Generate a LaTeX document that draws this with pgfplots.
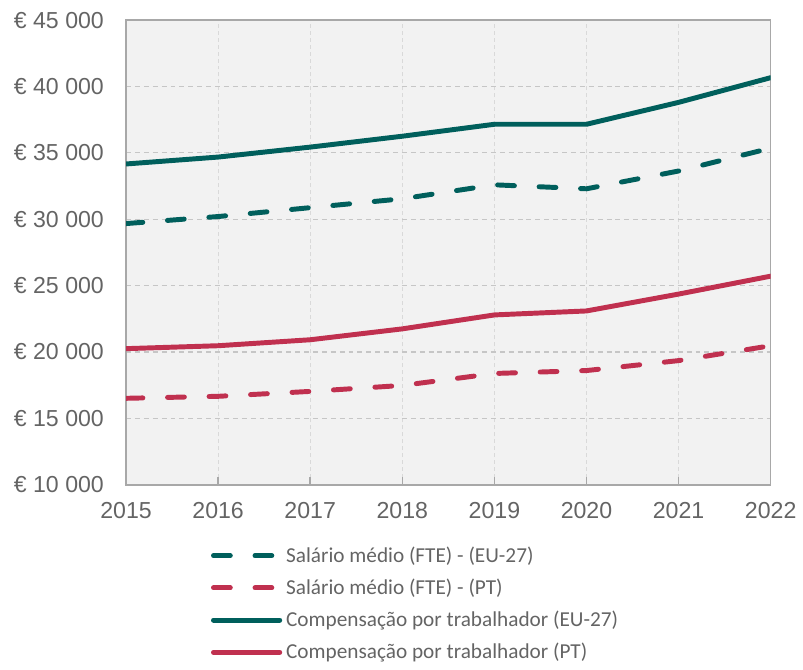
\documentclass[border={7pt 0pt 0pt 6pt}]{standalone}
\usepackage{pgfplots}
\pgfplotsset{compat=1.18}
\usepackage{fontspec}
\setmainfont{Liberation Sans}
\newfontfamily\carlito{Carlito}
\definecolor{tealc}{HTML}{005F5C}
\definecolor{crim}{HTML}{C0304F}
\definecolor{txt}{HTML}{646464}
\definecolor{frame}{HTML}{A8A8A8}
\begin{document}
\begin{tikzpicture}
\begin{axis}[
  scale only axis, width=326pt, height=235pt,
  xmin=2015, xmax=2022, ymin=10000, ymax=45000,
  scaled y ticks=false, scaled x ticks=false,
  xtick={2015,2016,2017,2018,2019,2020,2021,2022},
  xticklabels={2015,2016,2017,2018,2019,2020,2021,2022},
  ytick={10000,15000,20000,25000,30000,35000,40000,45000},
  yticklabels={€ 10 000,€ 15 000,€ 20 000,€ 25 000,€ 30 000,€ 35 000,€ 40 000,€ 45 000},
  /pgf/number format/assume math mode=true,
  ticklabel style={font=\fontsize{11.7}{13}\selectfont, text=txt},
  yticklabel style={inner sep=0pt, xshift=-11pt},
  xticklabel style={yshift=-5.5pt},
  tick align=inside, xtick pos=bottom, ytick pos=left,
  xtick style={draw=frame, line width=0.8pt},
  ytick style={draw=none},
  major tick length=4pt,
  axis line style={draw=frame, line width=0.8pt},
  axis background/.style={fill=gray!10},
  xmajorgrids, ymajorgrids,
  x grid style={draw=gray!30, dash pattern=on 2pt off 1.5pt, line width=0.5pt},
  y grid style={draw=gray!45, dash pattern=on 2.5pt off 2pt, line width=0.6pt},
  legend style={at={(0.122,-0.115)}, anchor=north west, draw=none, fill=none,
    font=\carlito\fontsize{10.75}{12.5}\selectfont, text=txt, cells={anchor=west},
    row sep=2.9pt},
  legend image code/.code={\draw[#1] (1.25pt,0pt) -- (34.75pt,0pt);},
  every axis plot/.append style={line width=2.5pt, line cap=round, line join=round},
]
\addplot[tealc, dash pattern=on 8.5pt off 12.5pt] coordinates {
 (2015,29670) (2016,30200) (2017,30870) (2018,31540) (2019,32590) (2020,32290) (2021,33630) (2022,35350)};
\addlegendentry{Salário médio (FTE) - (EU-27)}
\addplot[crim, dash pattern=on 8.5pt off 12.5pt] coordinates {
 (2015,16510) (2016,16660) (2017,17030) (2018,17480) (2019,18380) (2020,18600) (2021,19350) (2022,20470)};
\addlegendentry{Salário médio (FTE) - (PT)}
\addplot[tealc] coordinates {
 (2015,34160) (2016,34680) (2017,35430) (2018,36250) (2019,37150) (2020,37150) (2021,38800) (2022,40660)};
\addlegendentry{Compensação por trabalhador (EU-27)}
\addplot[crim] coordinates {
 (2015,20250) (2016,20470) (2017,20920) (2018,21740) (2019,22790) (2020,23090) (2021,24360) (2022,25710)};
\addlegendentry{Compensação por trabalhador (PT)}
\end{axis}
\end{tikzpicture}
\end{document}
